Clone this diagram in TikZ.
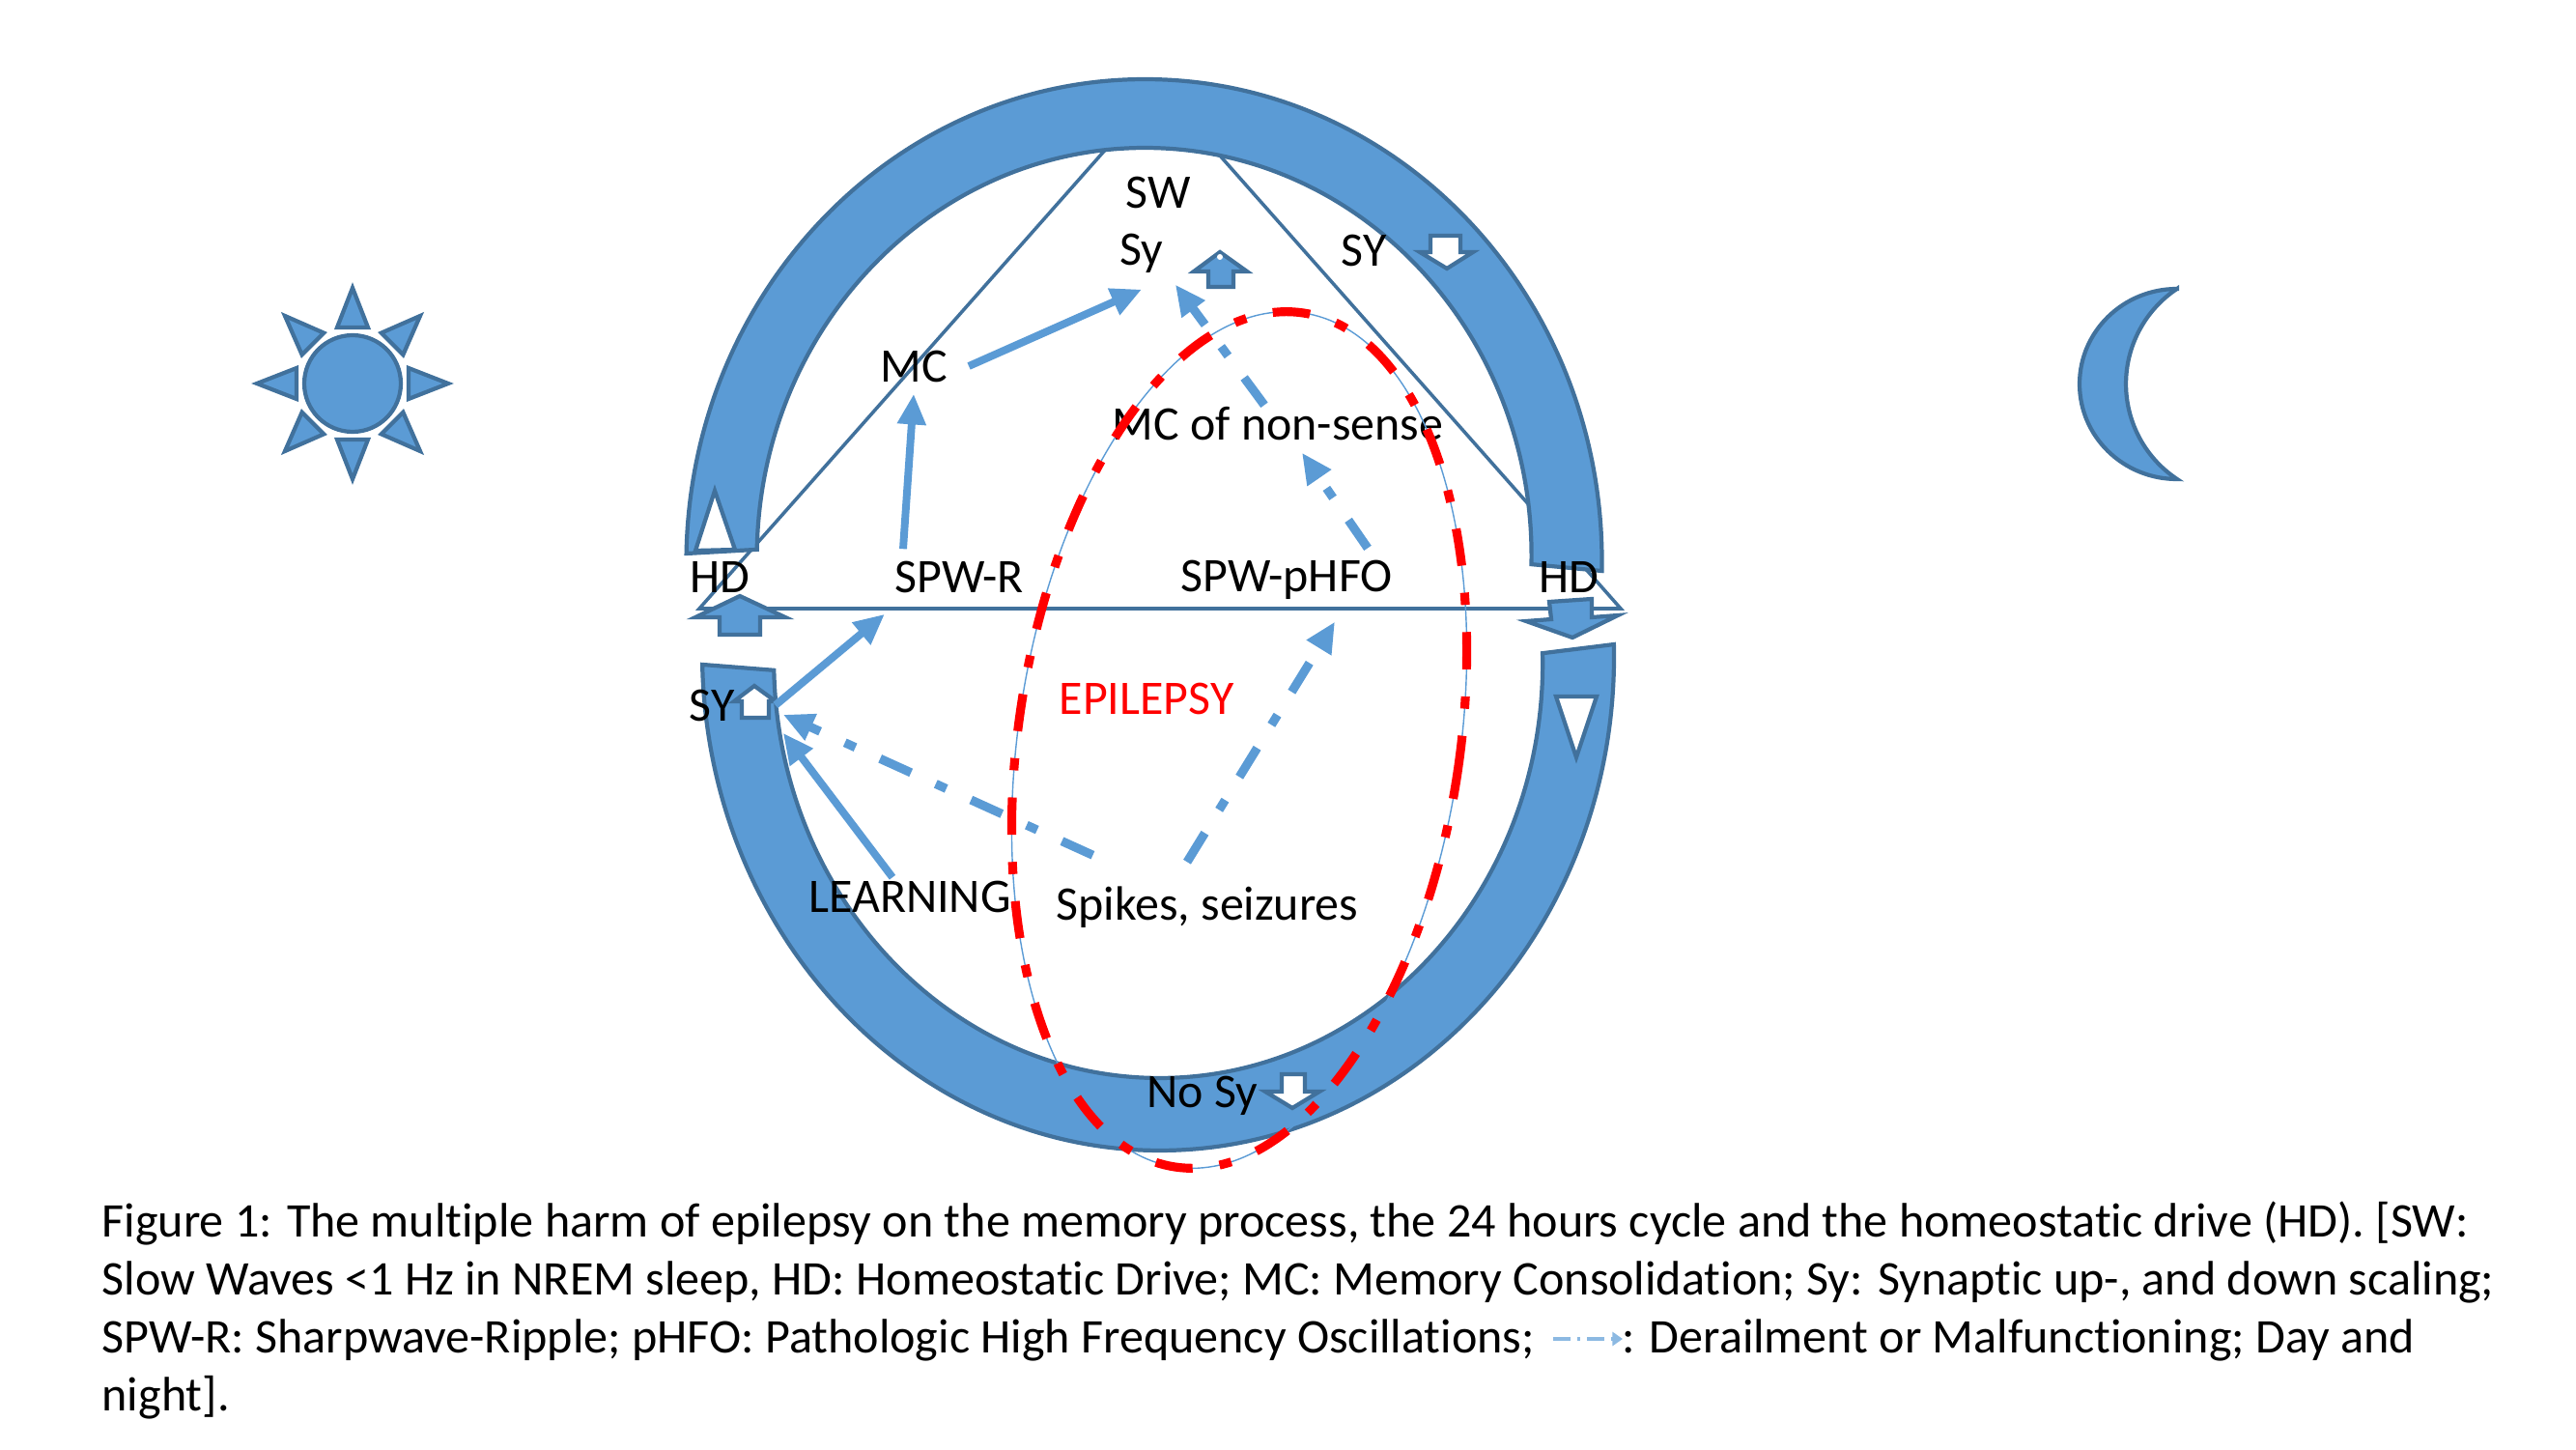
\documentclass[tikz,border=0pt]{standalone}
\usepackage{fontspec}
\setmainfont{Carlito}[Ligatures=NoCommon]
\usepackage{tikz}
\usetikzlibrary{positioning,arrows.meta}
\usepackage{xcolor}
\definecolor{shapeblue}{HTML}{5B9BD5}
\definecolor{shapeline}{HTML}{41719C}

\begin{document}
\begin{tikzpicture}[
  lbl/.style={font=\fontsize{14.2}{17}\selectfont, text=black},
  solidshape/.style={draw=shapeline, fill=shapeblue, line width=1.2pt},
  hollowshape/.style={draw=shapeline, fill=white, line width=1.2pt},
  frameline/.style={draw=shapeline, line width=1pt},
  flow/.style={-{Triangle[length=9pt,width=8pt]}, draw=shapeblue, line width=2.25pt},
  derail/.style={flow, line width=2.6pt, dash pattern=on 10pt off 8pt on 3.4pt off 8pt},
  legendflow/.style={-{Triangle[length=3pt,width=4pt]}, draw=shapeblue!70, line width=1pt, dash pattern=on 5pt off 2pt on 1pt off 2pt}
]
\useasboundingbox (0,0) rectangle (26.67,15);

% sun
\foreach \a in {0,45,...,315}
  \draw[solidshape, rotate around={\a:(3.65,11.03)}] (3.65,12.02) -- (3.49,11.61) -- (3.81,11.61) -- cycle;
\draw[solidshape] (3.65,11.03) circle (.5);

% moon
\draw[solidshape] (22.54,12.01) arc[start angle=90, end angle=270, x radius=1.01, y radius=.985]
  arc[start angle=236.5, end angle=123.5, radius=1.182] -- cycle;

% triangle and base line
\draw[frameline] (7.24,8.70) -- (12.01,14.09) -- (16.78,8.70) -- cycle;

% day arc
\begin{scope}[shift={(11.845,9.18)}, rotate=-1.09]
\draw[solidshape] (-4.74,0) arc[start angle=180, end angle=0, x radius=4.74, y radius=5.0]
  -- (4.01,.055) arc[start angle=0, end angle=180, x radius=4.01, y radius=4.235] -- cycle;
\end{scope}

% night arc
\begin{scope}[shift={(11.99,8.225)}, rotate=1.27]
\draw[solidshape] (-4.72,0) arc[start angle=180, end angle=360, x radius=4.72, y radius=5.135]
  -- (3.98,-.075) arc[start angle=360, end angle=180, x radius=3.98, y radius=4.31] -- cycle;
\end{scope}

% white triangles in the arcs
\draw[hollowshape] (7.40,9.92) -- (7.20,9.30) -- (7.61,9.31) -- cycle;
\draw[hollowshape] (16.11,7.79) -- (16.53,7.79) -- (16.32,7.16) -- cycle;

% block arrows
\draw[solidshape] (7.66,8.83) -- (8.13,8.61) -- (7.87,8.61) -- (7.87,8.43) -- (7.45,8.43) -- (7.45,8.61) -- (7.20,8.61) -- cycle;
\draw[solidshape] (16.04,8.77) -- (16.48,8.80) -- (16.48,8.61) -- (16.75,8.63) -- (16.28,8.40) -- (15.80,8.57) -- (16.06,8.59) -- cycle;
\draw[solidshape] (12.63,12.39) -- (12.91,12.19) -- (12.77,12.19) -- (12.77,12.03) -- (12.51,12.03) -- (12.51,12.19) -- (12.36,12.19) -- cycle;
\fill[white] (12.63,12.34) circle (.03);
\draw[hollowshape] (14.81,12.56) -- (15.12,12.56) -- (15.12,12.39) -- (15.25,12.39) -- (14.98,12.22) -- (14.70,12.39) -- (14.81,12.39) -- cycle;
\draw[hollowshape] (7.81,7.90) -- (8.03,7.74) -- (7.96,7.74) -- (7.96,7.57) -- (7.68,7.57) -- (7.68,7.74) -- (7.60,7.74) -- cycle;
\draw[hollowshape] (13.27,3.88) -- (13.51,3.88) -- (13.51,3.70) -- (13.66,3.70) -- (13.38,3.53) -- (13.10,3.70) -- (13.27,3.70) -- cycle;

% labels
\node[lbl] (sw) at (11.99,13.01) {SW};
\node[lbl] (sy) at (11.82,12.38) {Sy};
\node[lbl] (syr) at (14.12,12.41) {SY};
\node[lbl] (mc) at (9.46,11.21) {MC};
\node[lbl] (mcns) at (13.23,10.61) {MC of non-sense};
\node[lbl] (hdl) at (7.45,9.03) {HD};
\node[lbl] (spwr) at (9.93,9.03) {SPW-R};
\node[lbl] (spwp) at (13.32,9.00) {SPW-pHFO};
\node[lbl] (hdr) at (16.24,9.03) {HD};
\node[lbl] (syl) at (7.37,7.70) {SY};
\node[lbl, text=red] (epi) at (11.87,7.77) {EPILEPSY};
\node[lbl] (learn) at (9.42,5.72) {LEARNING};
\node[lbl] (spikes) at (12.50,5.61) {Spikes, seizures};
\node[lbl] (nosy) at (12.45,3.66) {No Sy};

% connectors
\draw[flow] ([xshift=-.58cm]spwr.north) -- (mc.south);
\draw[flow] ([xshift=.1cm]mc.east) -- ([yshift=-.05cm]sy.south);
\draw[derail] ([xshift=.84cm]spwp.north) -- ([xshift=.25cm]mcns.south);
\draw[derail] ([xshift=-.14cm,yshift=-.1cm]mcns.north) -- (sy.south east);
\draw[flow] ([xshift=.3cm]syl.east) -- ([xshift=.02cm,yshift=-.1cm]spwr.south west);
\draw[flow] ([xshift=-.18cm,yshift=-.09cm]learn.north) -- ([xshift=.38cm]syl.south east);
\draw[derail] ([xshift=.5cm,yshift=.2cm]spikes.north west) -- ([xshift=.38cm,yshift=.19cm]syl.south east);
\draw[derail] ([xshift=-.21cm,yshift=.13cm]spikes.north) -- ([xshift=.5cm,yshift=-.11cm]spwp.south);

% epilepsy ellipse
\draw[shapeblue, line width=.4pt, rotate around={-8.55:(12.83,7.34)}] (12.83,7.34) ellipse[x radius=2.285, y radius=4.47];
\draw[red, line width=2.6pt, dash pattern=on 11pt off 8pt on 3.6pt off 8pt, rotate around={-8.55:(12.83,7.34)}] (12.83,7.34) ellipse[x radius=2.285, y radius=4.47];

% caption
\node[anchor=north west, inner sep=0pt, align=left, font=\fontsize{14.25}{17.07}\selectfont] (caption) at (1.05,2.57) {%
Figure 1: The multiple harm of epilepsy on the memory process, the 24 hours cycle and the homeostatic drive (HD). [SW:\\
Slow Waves <1 Hz in NREM sleep, HD: Homeostatic Drive; MC: Memory Consolidation; Sy: Synaptic up-, and down scaling;\\
SPW-R: Sharpwave-Ripple; pHFO: Pathologic High Frequency Oscillations; \hspace{22.5pt}: Derailment or Malfunctioning; Day and\\
night].};
\coordinate (legstart) at (16.08,1.14);
\coordinate (legend) at (16.8,1.14);
\draw[legendflow] (legstart) -- (legend);
\end{tikzpicture}
\end{document}
